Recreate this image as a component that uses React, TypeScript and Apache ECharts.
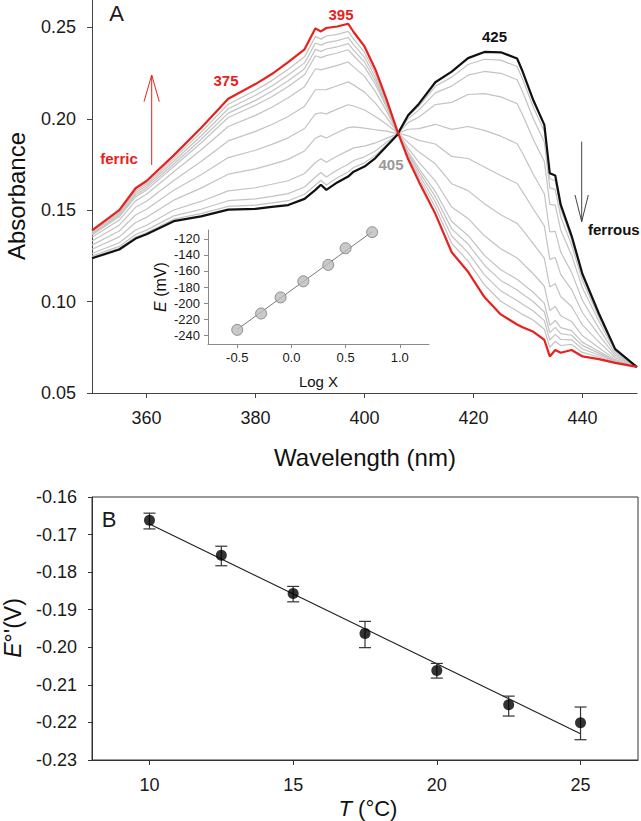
import React, { useEffect, useRef } from "react";
import * as echarts from "echarts";

// ---------- Panel A: spectra ----------
const WAVELENGTHS = [350, 355, 358, 360, 365, 370, 375, 380, 383, 386, 389, 391, 392, 393, 395, 397, 398, 400, 402, 404, 406, 408, 410, 413, 416, 419, 422, 425, 428, 429, 431, 433, 434, 435, 436, 438, 440, 443, 446, 450];
const FERRIC = [0.139, 0.150, 0.162, 0.166, 0.180, 0.195, 0.211, 0.219, 0.2245, 0.231, 0.238, 0.2495, 0.2478, 0.2497, 0.2505, 0.252, 0.2475, 0.2396, 0.227, 0.211, 0.1935, 0.178, 0.1655, 0.148, 0.127, 0.1163, 0.1025, 0.093, 0.0875, 0.086, 0.0835, 0.079, 0.070, 0.0735, 0.072, 0.0735, 0.070, 0.0685, 0.0665, 0.0643];
const FERROUS = [0.1237, 0.1285, 0.1345, 0.1368, 0.144, 0.1466, 0.1503, 0.1507, 0.1518, 0.1528, 0.1562, 0.1611, 0.1639, 0.1611, 0.1652, 0.1684, 0.1711, 0.1739, 0.1785, 0.1849, 0.1912, 0.202, 0.2083, 0.22, 0.2258, 0.2332, 0.2366, 0.2364, 0.233, 0.226, 0.21, 0.1967, 0.1702, 0.169, 0.153, 0.136, 0.115, 0.0935, 0.074, 0.0642];
const TITRATION_1 = [0.1382, 0.1489, 0.1606, 0.1645, 0.1782, 0.1926, 0.2080, 0.2156, 0.2209, 0.2271, 0.2339, 0.2451, 0.2436, 0.2453, 0.2462, 0.2478, 0.2437, 0.2363, 0.2246, 0.2097, 0.1934, 0.1792, 0.1676, 0.1516, 0.1319, 0.1221, 0.1092, 0.1002, 0.0948, 0.0930, 0.0898, 0.0849, 0.0750, 0.0783, 0.0760, 0.0766, 0.0722, 0.0697, 0.0669, 0.0642];
const TITRATION_2 = [0.1376, 0.1481, 0.1595, 0.1634, 0.1768, 0.1906, 0.2055, 0.2129, 0.2180, 0.2240, 0.2306, 0.2415, 0.2403, 0.2417, 0.2428, 0.2445, 0.2406, 0.2337, 0.2226, 0.2087, 0.1933, 0.1802, 0.1694, 0.1545, 0.1359, 0.1268, 0.1146, 0.1059, 0.1006, 0.0986, 0.0949, 0.0896, 0.0790, 0.0821, 0.0793, 0.0791, 0.0741, 0.0708, 0.0672, 0.0642];
const TITRATION_3 = [0.1370, 0.1472, 0.1584, 0.1622, 0.1753, 0.1887, 0.2031, 0.2101, 0.2151, 0.2208, 0.2274, 0.2380, 0.2369, 0.2382, 0.2394, 0.2411, 0.2376, 0.2311, 0.2207, 0.2076, 0.1932, 0.1811, 0.1711, 0.1574, 0.1398, 0.1315, 0.1199, 0.1116, 0.1064, 0.1042, 0.0999, 0.0943, 0.0830, 0.0859, 0.0825, 0.0816, 0.0759, 0.0718, 0.0675, 0.0642];
const TITRATION_4 = [0.1364, 0.1464, 0.1573, 0.1610, 0.1739, 0.1868, 0.2007, 0.2074, 0.2121, 0.2177, 0.2241, 0.2345, 0.2335, 0.2346, 0.2360, 0.2378, 0.2345, 0.2284, 0.2188, 0.2066, 0.1931, 0.1821, 0.1728, 0.1602, 0.1438, 0.1362, 0.1253, 0.1174, 0.1122, 0.1098, 0.1050, 0.0990, 0.0870, 0.0897, 0.0858, 0.0841, 0.0777, 0.0728, 0.0678, 0.0642];
const TITRATION_5 = [0.1352, 0.1446, 0.1551, 0.1587, 0.1710, 0.1829, 0.1958, 0.2019, 0.2063, 0.2115, 0.2176, 0.2274, 0.2268, 0.2276, 0.2292, 0.2311, 0.2284, 0.2232, 0.2149, 0.2045, 0.1929, 0.1840, 0.1762, 0.1660, 0.1517, 0.1455, 0.1360, 0.1289, 0.1239, 0.1210, 0.1151, 0.1084, 0.0951, 0.0974, 0.0923, 0.0891, 0.0813, 0.0748, 0.0684, 0.0642];
const TITRATION_6 = [0.1332, 0.1418, 0.1516, 0.1549, 0.1663, 0.1766, 0.1879, 0.1931, 0.1969, 0.2013, 0.2069, 0.2159, 0.2159, 0.2160, 0.2181, 0.2202, 0.2185, 0.2146, 0.2086, 0.2011, 0.1926, 0.1871, 0.1818, 0.1754, 0.1645, 0.1607, 0.1535, 0.1475, 0.1428, 0.1392, 0.1316, 0.1237, 0.1081, 0.1098, 0.1028, 0.0973, 0.0871, 0.0780, 0.0694, 0.0642];
const TITRATION_7 = [0.1309, 0.1386, 0.1474, 0.1505, 0.1609, 0.1694, 0.1788, 0.1828, 0.1860, 0.1896, 0.1947, 0.2027, 0.2033, 0.2027, 0.2053, 0.2077, 0.2070, 0.2048, 0.2013, 0.1972, 0.1923, 0.1907, 0.1882, 0.1862, 0.1794, 0.1783, 0.1736, 0.1690, 0.1646, 0.1602, 0.1505, 0.1414, 0.1231, 0.1241, 0.1149, 0.1066, 0.0939, 0.0818, 0.0705, 0.0642];
const TITRATION_8 = [0.1286, 0.1354, 0.1433, 0.1461, 0.1555, 0.1621, 0.1697, 0.1726, 0.1751, 0.1778, 0.1824, 0.1894, 0.1908, 0.1895, 0.1925, 0.1952, 0.1956, 0.1949, 0.1940, 0.1933, 0.1919, 0.1943, 0.1946, 0.1970, 0.1942, 0.1958, 0.1937, 0.1905, 0.1864, 0.1812, 0.1695, 0.1590, 0.1381, 0.1384, 0.1271, 0.1160, 0.1006, 0.0855, 0.0716, 0.0642];
const TITRATION_9 = [0.1263, 0.1322, 0.1392, 0.1418, 0.1501, 0.1548, 0.1606, 0.1623, 0.1642, 0.1661, 0.1701, 0.1761, 0.1782, 0.1762, 0.1797, 0.1826, 0.1841, 0.1851, 0.1868, 0.1893, 0.1916, 0.1979, 0.2010, 0.2078, 0.2090, 0.2133, 0.2138, 0.2120, 0.2083, 0.2022, 0.1885, 0.1767, 0.1532, 0.1528, 0.1392, 0.1254, 0.1074, 0.0893, 0.0727, 0.0642];
const TITRATION_10 = [0.1249, 0.1302, 0.1367, 0.1391, 0.1469, 0.1505, 0.1552, 0.1562, 0.1576, 0.1591, 0.1627, 0.1682, 0.1706, 0.1682, 0.1720, 0.1751, 0.1772, 0.1792, 0.1824, 0.1870, 0.1914, 0.2001, 0.2049, 0.2142, 0.2179, 0.2239, 0.2259, 0.2249, 0.2214, 0.2148, 0.1999, 0.1873, 0.1622, 0.1614, 0.1465, 0.1310, 0.1114, 0.0915, 0.0734, 0.0642];
const TITRATION_11 = [0.1242, 0.1292, 0.1353, 0.1377, 0.1451, 0.1481, 0.1521, 0.1528, 0.1540, 0.1552, 0.1587, 0.1638, 0.1664, 0.1638, 0.1678, 0.1709, 0.1734, 0.1759, 0.1800, 0.1857, 0.1913, 0.2013, 0.2070, 0.2178, 0.2228, 0.2297, 0.2326, 0.2321, 0.2286, 0.2218, 0.2062, 0.1932, 0.1672, 0.1661, 0.1506, 0.1341, 0.1137, 0.0928, 0.0738, 0.0642];
const INTERMEDIATES = [TITRATION_1, TITRATION_2, TITRATION_3, TITRATION_4, TITRATION_5, TITRATION_6, TITRATION_7, TITRATION_8, TITRATION_9, TITRATION_10, TITRATION_11];

const A_X_TICKS = [360, 380, 400, 420, 440];
const A_Y_TICKS = [0.05, 0.1, 0.15, 0.2, 0.25];

// ---------- Inset: Nernst plot ----------
const INSET_LOGX = [-0.5, -0.28, -0.1, 0.11, 0.34, 0.5, 0.745];
const INSET_E = [-233.4, -213.0, -193.0, -172.9, -152.5, -131.7, -111.7];
const INSET_FIT_LOGX = [-0.5, 0.745];
const INSET_FIT_E = [-232.8, -111.2];
const INSET_X_TICKS = [-0.5, 0, 0.5, 1.0];
const INSET_Y_TICKS = [-240, -220, -200, -180, -160, -140, -120];

// ---------- Panel B: E°' vs T ----------
const TEMPS = [10, 12.5, 15, 17.5, 20, 22.5, 25];
const E0 = [-0.1662, -0.1755, -0.1857, -0.1963, -0.2062, -0.2153, -0.2201];
const E0_LOW = [-0.1685, -0.1783, -0.1879, -0.2001, -0.2082, -0.2183, -0.2246];
const E0_HIGH = [-0.1643, -0.1731, -0.1838, -0.1931, -0.2043, -0.2130, -0.2159];
const FIT_T = [10, 25];
const FIT_E0 = [-0.1672, -0.2230];
const B_X_TICKS = [10, 15, 20, 25];
const B_Y_TICKS = [-0.23, -0.22, -0.21, -0.2, -0.19, -0.18, -0.17, -0.16];

const FONT = '"Liberation Sans", Arial, Helvetica, sans-serif';
const RED = "#e8211d";

function axisBase(color: string, ticks: number[], fontSize: number, margin: number, digits: number, tickLen: number) {
  return {
    axisLine: { show: true, onZero: false, lineStyle: { color, width: 1 } },
    axisTick: { show: true, length: tickLen, inside: false, customValues: ticks, lineStyle: { color, width: 1 } },
    axisLabel: {
      customValues: ticks,
      fontSize,
      fontFamily: FONT,
      color: "#1a1a1a",
      margin,
      formatter: (v: number) => v.toFixed(digits),
    },
    splitLine: { show: false },
  };
}

export default function App() {
  const ref = useRef<HTMLDivElement>(null);

  useEffect(() => {
    if (!ref.current) return;
    const chart = echarts.init(ref.current, undefined, { renderer: "svg" });

    const spectra: any[] = INTERMEDIATES.map((arr, k) => ({
      name: "t" + k,
      type: "line",
      xAxisIndex: 0,
      yAxisIndex: 0,
      data: WAVELENGTHS.map((w, i) => [w, arr[i]]),
      symbol: "none",
      lineStyle: { color: "#c3c3c3", width: 1.2 },
      z: 2,
    }));
    spectra.push({
      name: "ferrous",
      type: "line",
      xAxisIndex: 0,
      yAxisIndex: 0,
      data: WAVELENGTHS.map((w, i) => [w, FERROUS[i]]),
      symbol: "none",
      lineStyle: { color: "#111", width: 2.2 },
      z: 3,
    });
    spectra.push({
      name: "ferric",
      type: "line",
      xAxisIndex: 0,
      yAxisIndex: 0,
      data: WAVELENGTHS.map((w, i) => [w, FERRIC[i]]),
      symbol: "none",
      lineStyle: { color: RED, width: 2.2 },
      z: 4,
    });

    const txt = (text: string, x: number, y: number, size: number, fill: string, bold = false, align = "center", rotation = 0, rich?: any) => ({
      type: "text",
      x,
      y,
      rotation,
      silent: true,
      style: {
        text,
        fontSize: size,
        fontFamily: FONT,
        fontWeight: bold ? "bold" : "normal",
        fill,
        align,
        verticalAlign: "middle",
        rich,
      },
    });

    const italic = (size: number) => ({ i: { fontStyle: "italic", fontSize: size, fontFamily: FONT, fill: "#111" }, n: { fontSize: size, fontFamily: FONT, fill: "#111" } });

    const option: any = {
      animation: false,
      backgroundColor: "#ffffff",
      grid: [
        { left: 92, right: 4, top: 0, bottom: 428, containLabel: false },
        { left: 92, right: 3, top: 497, bottom: 61, containLabel: false, show: true, borderColor: "#333", borderWidth: 1, backgroundColor: "transparent" },
        { left: 208, right: 212, top: 230, bottom: 477, containLabel: false },
      ],
      xAxis: [
        { type: "value", gridIndex: 0, min: 350, max: 450, ...axisBase("#444", A_X_TICKS, 18, 16, 0, 5) },
        { type: "value", gridIndex: 1, min: 8, max: 27, ...axisBase("#333", B_X_TICKS, 18, 16, 0, 5) },
        { type: "value", gridIndex: 2, min: -0.77, max: 1.27, ...axisBase("#8a8a8a", INSET_X_TICKS, 13, 7, 1, 4) },
      ],
      yAxis: [
        { type: "value", gridIndex: 0, min: 0.05, max: 0.265, ...axisBase("#444", A_Y_TICKS, 18, 16, 2, 5) },
        { type: "value", gridIndex: 1, min: -0.23, max: -0.16, ...axisBase("#333", B_Y_TICKS, 18, 15, 2, 4) },
        { type: "value", gridIndex: 2, min: -251, max: -109, ...axisBase("#8a8a8a", INSET_Y_TICKS, 13, 8, 0, 4) },
      ],
      series: [
        ...spectra,
        {
          type: "line",
          xAxisIndex: 2,
          yAxisIndex: 2,
          data: INSET_FIT_LOGX.map((x, i) => [x, INSET_FIT_E[i]]),
          symbol: "none",
          lineStyle: { color: "#7a7a7a", width: 1 },
          z: 5,
        },
        {
          type: "scatter",
          xAxisIndex: 2,
          yAxisIndex: 2,
          data: INSET_LOGX.map((x, i) => [x, INSET_E[i]]),
          symbolSize: 11,
          itemStyle: { color: "#bcbcbc", borderColor: "#7a7a7a", borderWidth: 1 },
          z: 6,
        },
        {
          type: "line",
          xAxisIndex: 1,
          yAxisIndex: 1,
          data: FIT_T.map((t, i) => [t, FIT_E0[i]]),
          symbol: "none",
          lineStyle: { color: "#222", width: 1.2 },
          z: 5,
        },
        {
          type: "custom",
          xAxisIndex: 1,
          yAxisIndex: 1,
          data: TEMPS.map((t, i) => [t, E0_LOW[i], E0_HIGH[i]]),
          encode: { x: 0, y: [1, 2] },
          renderItem: (params: any, api: any) => {
            const x = api.value(0);
            const lo = api.coord([x, api.value(1)]);
            const hi = api.coord([x, api.value(2)]);
            const hw = 6;
            const style = { stroke: "#333", lineWidth: 1.2 };
            return {
              type: "group",
              children: [
                { type: "line", shape: { x1: lo[0], y1: lo[1], x2: hi[0], y2: hi[1] }, style },
                { type: "line", shape: { x1: lo[0] - hw, y1: lo[1], x2: lo[0] + hw, y2: lo[1] }, style },
                { type: "line", shape: { x1: hi[0] - hw, y1: hi[1], x2: hi[0] + hw, y2: hi[1] }, style },
              ],
            };
          },
          z: 6,
        },
        {
          type: "scatter",
          xAxisIndex: 1,
          yAxisIndex: 1,
          data: TEMPS.map((t, i) => [t, E0[i]]),
          symbolSize: 11,
          itemStyle: { color: "#000" },
          z: 7,
        },
      ],
      graphic: [
        txt("A", 116.5, 13, 22, "#1a1a1a"),
        txt("375", 226, 80, 15, RED, true),
        txt("395", 341, 14, 15, RED, true),
        txt("425", 494.5, 36, 15, "#111", true),
        txt("405", 391, 164, 15, "#999", true),
        txt("ferric", 119, 158, 15, RED, true),
        txt("ferrous", 588, 229, 15, "#111", true, "left"),
        { type: "line", silent: true, shape: { x1: 151.7, y1: 165, x2: 151.7, y2: 75 }, style: { stroke: RED, lineWidth: 1 } },
        { type: "polyline", silent: true, shape: { points: [[144, 101.7], [151.7, 75], [159.3, 101.7]] }, style: { stroke: RED, lineWidth: 1, fill: "none" } },
        { type: "line", silent: true, shape: { x1: 581.7, y1: 141.7, x2: 581.7, y2: 221.7 }, style: { stroke: "#444", lineWidth: 1 } },
        { type: "polyline", silent: true, shape: { points: [[575, 195], [581.7, 221.7], [588.3, 195]] }, style: { stroke: "#444", lineWidth: 1, fill: "none" } },
        txt("Absorbance", 16, 196, 24, "#111", false, "center", Math.PI / 2),
        txt("Wavelength (nm)", 365, 457, 24, "#111"),
        txt("{i|E}{n| (mV)}", 160, 287, 16, "#111", false, "center", Math.PI / 2, italic(16)),
        txt("Log X", 318.5, 381, 15, "#111"),
        txt("B", 109, 519, 22, "#1a1a1a"),
        txt("{i|E}{n|°'(V)}", 13, 628, 23, "#111", false, "center", Math.PI / 2, italic(23)),
        txt("{i|T}{n| (°C)}", 368, 808, 22, "#111", false, "center", 0, italic(22)),
      ],
    };

    chart.setOption(option);
    return () => chart.dispose();
  }, []);

  return (
    <div
      ref={ref}
      style={{ position: "absolute", left: 0, top: 0, width: 641, height: 821, background: "#fff" }}
    />
  );
}
